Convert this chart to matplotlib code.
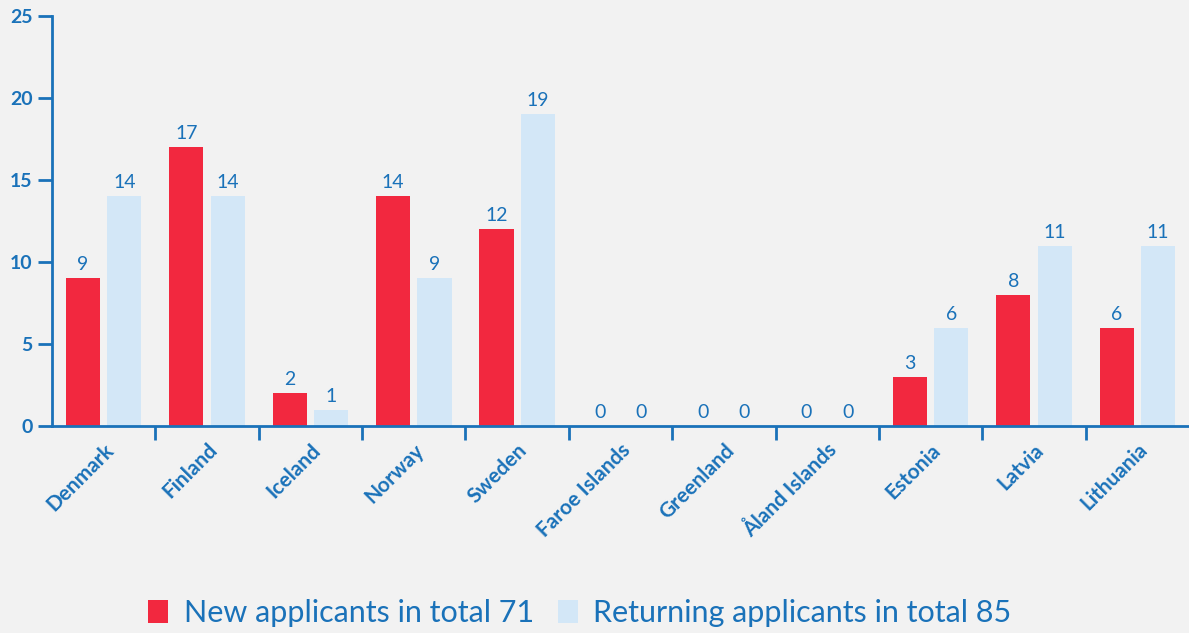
import numpy as np
import matplotlib.pyplot as plt

plt.rcParams['font.family'] = ['Lato', 'DejaVu Sans']

countries = ['Denmark', 'Finland', 'Iceland', 'Norway', 'Sweden', 'Faroe Islands',
             'Greenland', 'Åland Islands', 'Estonia', 'Latvia', 'Lithuania']
new_app = [9, 17, 2, 14, 12, 0, 0, 0, 3, 8, 6]
ret_app = [14, 14, 1, 9, 19, 0, 0, 0, 6, 11, 11]

blue = '#1a72b9'
red = '#f2283f'
light = '#d3e7f7'
bg = '#f2f2f2'

fig = plt.figure(figsize=(11.89, 6.33), dpi=100, facecolor=bg)
ax = fig.add_axes([52/1189, 1-426/633, 1-52/1189, 410/633], facecolor=bg)

x = np.arange(len(countries))
w = 0.33
b1 = ax.bar(x - 0.2, new_app, w, color=red, label='New applicants in total 71')
b2 = ax.bar(x + 0.2, ret_app, w, color=light, label='Returning applicants in total 85')

for bars in (b1, b2):
    for r in bars:
        ax.text(r.get_x() + r.get_width()/2, r.get_height() + 0.3, str(int(r.get_height())),
                ha='center', va='bottom', fontsize=14, color=blue)

ax.set_xlim(-0.5, len(countries) - 0.5)
ax.set_ylim(0, 25)
ax.set_yticks(range(0, 26, 5))
ax.set_xticks(x[:-1] + 0.5, minor=True)
ax.set_xticks(x)
ax.set_xticklabels(countries, rotation=45, ha='right', rotation_mode='anchor',
                   fontsize=15, color=blue, fontweight='bold')
for label in ax.yaxis.get_majorticklabels():
    label.set_fontsize(14)
    label.set_fontweight('bold')
    label.set_color(blue)

ax.tick_params(axis='x', which='major', length=0, pad=10)
ax.tick_params(axis='x', which='minor', length=10, width=2, color=blue)
ax.tick_params(axis='y', length=10, width=2, color=blue, pad=4)

for s in ('top', 'right'):
    ax.spines[s].set_visible(False)
for s in ('left', 'bottom'):
    ax.spines[s].set_color(blue)
    ax.spines[s].set_linewidth(2)

leg = fig.legend(handles=[b1, b2], loc='center', bbox_to_anchor=(580/1189, 1-613/633),
                 ncol=2, frameon=False, fontsize=22, handlelength=0.65, handleheight=0.8,
                 handletextpad=0.5, columnspacing=0.8)
for t in leg.get_texts():
    t.set_color(blue)

fig.savefig('out.png', dpi=100, facecolor=bg)
